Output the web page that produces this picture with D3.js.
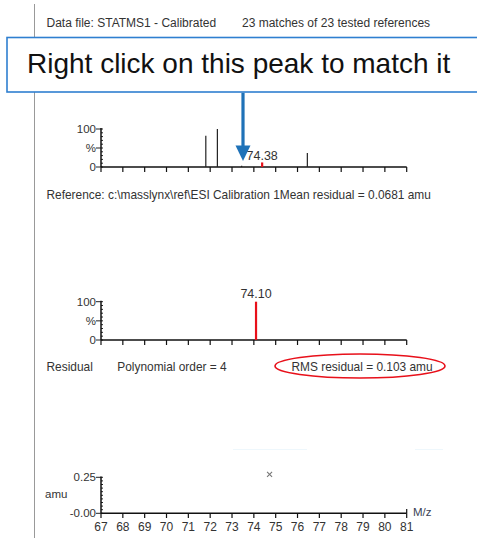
<!DOCTYPE html>
<html><head><meta charset="utf-8">
<script src="https://cdn.jsdelivr.net/npm/d3@7"></script>
<style>body{margin:0;background:#fff}svg{display:block}text{font-family:"Liberation Sans",Arial,sans-serif}</style>
</head><body>
<script>
// ---- data ----
const xTicks = [67,68,69,70,71,72,73,74,75,76,77,78,79,80,81];
const refMz = [71.8, 72.33, 73.44, 74.38, 76.45];
const refInt = [82, 100, 3, 12, 37];
const refMatched = [false, false, false, true, false];
const matchMz = [74.10];
const matchInt = [100];
const resMz = [74.72];
const resVal = [0.27];
const intensityTicks = ["0", "%", "100"];
const residualTicks = ["-0.00", "0.25"];
const headerTexts = ["Data file: STATMS1 - Calibrated", "23 matches of 23 tested references"];
const calloutText = "Right click on this peak to match it";
const referenceText = "Reference: c:\\masslynx\\ref\\ESI Calibration 1Mean residual = 0.0681 amu";
const residualTexts = ["Residual", "Polynomial order = 4", "RMS residual = 0.103 amu"];

const W = 477, H = 538;
const svg = d3.select("body").append("svg").attr("width", W).attr("height", H);
const txt = "#333";

// left gray line
svg.append("line").attr("x1",34.5).attr("x2",34.5).attr("y1",4).attr("y2",H).attr("stroke","#999").attr("stroke-width",1);

// header
svg.append("text").attr("x",46.5).attr("y",26.5).attr("font-size",12).attr("fill",txt).text(headerTexts[0]);
svg.append("text").attr("x",242).attr("y",26.5).attr("font-size",12).attr("fill",txt).text(headerTexts[1]);

const x = d3.scaleLinear().domain([67,81]).range([101,406.7]);

function panel(y0, y100, labels) {
  const y = d3.scaleLinear().domain([0,100]).range([y0,y100]);
  const g = svg.append("g");
  const minor = d3.range(0,101,10);
  g.selectAll("line.minor").data(minor).join("line")
    .attr("x1",101).attr("x2",103).attr("y1",d=>y(d)).attr("y2",d=>y(d)).attr("stroke","#222").attr("stroke-width",1);
  const major = [0,50,100];
  g.selectAll("line.major").data(major).join("line")
    .attr("x1",96).attr("x2",101).attr("y1",d=>y(d)).attr("y2",d=>y(d)).attr("stroke","#222").attr("stroke-width",1);
  g.selectAll("text.yl").data(major).join("text")
    .attr("x",96).attr("y",d=>y(d)+4).attr("text-anchor","end").attr("font-size",11.5).attr("fill",txt)
    .text((d,i)=>labels[i]);
  g.append("line").attr("x1",101).attr("x2",101).attr("y1",y100-1).attr("y2",y0).attr("stroke","#111").attr("stroke-width",1.5);
  g.append("line").attr("x1",101).attr("x2",406.7).attr("y1",y0).attr("y2",y0).attr("stroke","#111").attr("stroke-width",1.6);
  g.selectAll("line.xt").data(xTicks).join("line")
    .attr("x1",d=>x(d)).attr("x2",d=>x(d)).attr("y1",y0).attr("y2",y0+5).attr("stroke","#111").attr("stroke-width",1.2);
  return y;
}

// top panel
const yTop = panel(167, 129, intensityTicks);
svg.selectAll("line.ref").data(refMz).join("line")
  .attr("x1",d=>x(d)).attr("x2",d=>x(d)).attr("y1",yTop(0)).attr("y2",(d,i)=>yTop(refInt[i]))
  .attr("stroke",(d,i)=>refMatched[i]?"#e8101a":"#222").attr("stroke-width",(d,i)=>refMatched[i]?2.2:1.2);
refMz.forEach((m,i)=>{ if(refMatched[i]) svg.append("text").attr("x",x(m)).attr("y",yTop(refInt[i])-2).attr("text-anchor","middle").attr("font-size",12.5).attr("fill",txt).text(m.toFixed(2)); });

svg.append("text").attr("x",46.5).attr("y",198.5).attr("font-size",11.9).attr("fill",txt).text(referenceText);

// middle panel
const yMid = panel(340, 301.7, intensityTicks);
svg.selectAll("line.match").data(matchMz).join("line")
  .attr("x1",d=>x(d)).attr("x2",d=>x(d)).attr("y1",yMid(0)).attr("y2",(d,i)=>yMid(matchInt[i]))
  .attr("stroke","#e8101a").attr("stroke-width",2.2);
matchMz.forEach((m,i)=> svg.append("text").attr("x",x(m)).attr("y",yMid(matchInt[i])-4).attr("text-anchor","middle").attr("font-size",12.5).attr("fill",txt).text(m.toFixed(2)));

svg.append("text").attr("x",46.5).attr("y",371).attr("font-size",11.9).attr("fill",txt).text(residualTexts[0]);
svg.append("text").attr("x",117.3).attr("y",371).attr("font-size",11.9).attr("fill",txt).text(residualTexts[1]);
svg.append("text").attr("x",291.5).attr("y",371).attr("font-size",11.9).attr("fill",txt).text(residualTexts[2]);
svg.append("ellipse").attr("cx",360).attr("cy",366).attr("rx",85).attr("ry",12).attr("fill","none").attr("stroke","#e8101a").attr("stroke-width",1.6);

// faint artifacts
svg.append("line").attr("x1",233).attr("x2",307).attr("y1",449.5).attr("y2",449.5).attr("stroke","#eef7fc").attr("stroke-width",1);
svg.append("line").attr("x1",415).attr("x2",443).attr("y1",449.5).attr("y2",449.5).attr("stroke","#eef7fc").attr("stroke-width",1);

// bottom residual panel
const yRes = d3.scaleLinear().domain([0,0.25]).range([513.3,477.3]);
const gb = svg.append("g");
gb.selectAll("line.minor").data(d3.range(0,0.2501,0.025)).join("line")
  .attr("x1",101).attr("x2",103).attr("y1",d=>yRes(d)).attr("y2",d=>yRes(d)).attr("stroke","#222");
gb.selectAll("line.major").data([0,0.25]).join("line")
  .attr("x1",96).attr("x2",101).attr("y1",d=>yRes(d)).attr("y2",d=>yRes(d)).attr("stroke","#222");
gb.selectAll("text.yl").data([0,0.25]).join("text")
  .attr("x",96).attr("y",d=>yRes(d)+4).attr("text-anchor","end").attr("font-size",11.5).attr("fill",txt)
  .text((d,i)=>residualTicks[i]);
gb.append("text").attr("x",45).attr("y",498).attr("font-size",11.5).attr("fill",txt).text("amu");
gb.append("line").attr("x1",101).attr("x2",101).attr("y1",476.5).attr("y2",513.3).attr("stroke","#111").attr("stroke-width",1.5);
gb.append("line").attr("x1",101).attr("x2",406.7).attr("y1",513.3).attr("y2",513.3).attr("stroke","#111").attr("stroke-width",1.6);
gb.selectAll("line.xt").data(xTicks).join("line")
  .attr("x1",d=>x(d)).attr("x2",d=>x(d)).attr("y1",513.3).attr("y2",518).attr("stroke","#111").attr("stroke-width",1.2);
gb.append("line").attr("x1",406.7).attr("x2",406.7).attr("y1",509).attr("y2",513.3).attr("stroke","#111").attr("stroke-width",1.2);
gb.selectAll("text.xl").data(xTicks).join("text")
  .attr("x",d=>x(d)).attr("y",531).attr("text-anchor","middle").attr("font-size",12).attr("fill",txt).text(d=>d);
gb.append("text").attr("x",413).attr("y",516).attr("font-size",11.5).attr("fill","#3a3f55").text("M/z");
resMz.forEach((m,i)=>{
  const cx = x(m), cy = yRes(resVal[i]), s = 2.5;
  gb.append("path").attr("d",`M${cx-s},${cy-s}L${cx+s},${cy+s}M${cx-s},${cy+s}L${cx+s},${cy-s}`).attr("stroke","#777").attr("stroke-width",1.1);
});

// callout box (drawn on top)
svg.append("rect").attr("x",7).attr("y",37.5).attr("width",480).attr("height",54.5).attr("fill","#fff").attr("stroke","#2f7fd0").attr("stroke-width",1.6);
svg.append("text").attr("x",27).attr("y",73).attr("font-size",28).attr("fill","#111").text(calloutText);
// arrow
svg.append("line").attr("x1",243).attr("x2",243).attr("y1",92.8).attr("y2",147).attr("stroke","#1f72b8").attr("stroke-width",3.2);
svg.append("path").attr("d","M235.5,145.5L250.5,145.5L243,161Z").attr("fill","#1f72b8");
</script>
</body></html>
